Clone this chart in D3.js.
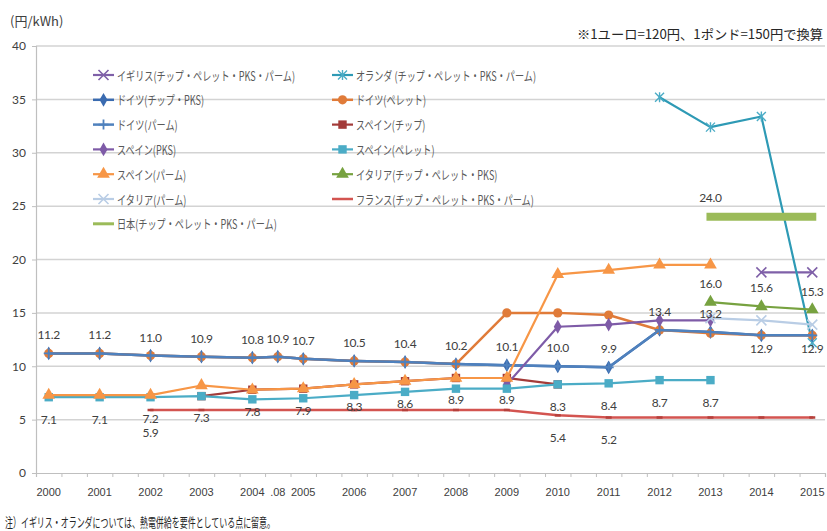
<!DOCTYPE html>
<html><head><meta charset="utf-8">
<script src="https://cdn.jsdelivr.net/npm/d3@7"></script>
<style>body{margin:0;background:#fff}svg{display:block}</style>
</head><body><svg id="c" width="827" height="531"></svg>
<script>
// ---------- data ----------
const years = [2000,2001,2002,2003,2004,2004.5,2005,2006,2007,2008,2009,2010,2011,2012,2013,2014,2015];
const yearLabels = ["2000","2001","2002","2003","2004",".08","2005","2006","2007","2008","2009","2010","2011","2012","2013","2014","2015"];
const yTicks = [0,5,10,15,20,25,30,35,40];
const n = null;
const ukValues      = [n,n,n,n,n,n,n,n,n,n,n,n,n,n,n,18.8,18.8];
const nlValues      = [n,n,n,n,n,n,n,n,n,n,n,n,n,35.2,32.4,33.4,12.2];
const deChipValues  = [11.2,11.2,11.0,10.9,10.8,10.9,10.7,10.5,10.4,10.2,10.1,10.0,9.9,13.4,13.2,12.9,12.9];
const dePelletValues= [11.2,11.2,11.0,10.9,10.8,10.9,10.7,10.5,10.4,10.2,15.0,15.0,14.8,13.4,13.1,12.9,12.9];
const dePalmValues  = [11.2,11.2,11.0,10.9,10.8,10.9,10.7,10.5,10.4,10.2,10.1,10.0,9.9,13.4,13.2,12.9,12.9];
const esChipValues  = [n,n,n,7.2,7.8,n,7.9,8.3,8.6,8.9,8.9,8.3,n,n,n,n,n];
const esPksValues   = [n,n,n,n,n,n,n,n,n,n,8.3,13.7,13.9,14.3,14.3,n,n];
const esPelletValues= [7.1,7.1,7.1,7.2,6.9,n,7.0,7.3,7.6,7.9,7.9,8.3,8.4,8.7,8.7,n,n];
const esPalmValues  = [7.3,7.3,7.3,8.2,7.8,n,7.9,8.3,8.6,8.9,8.9,18.6,19.0,19.5,19.5,n,n];
const itChipValues  = [n,n,n,n,n,n,n,n,n,n,n,n,n,n,16.0,15.6,15.3];
const itPalmValues  = [n,n,n,n,n,n,n,n,n,n,n,n,n,n,14.5,14.3,13.9];
const frValues      = [n,n,5.9,5.9,5.9,n,5.9,5.9,5.9,5.9,5.9,5.4,5.2,5.2,5.2,5.2,5.2];
const jpValues      = [n,n,n,n,n,n,n,n,n,n,n,n,n,n,24.0,24.0,24.0];

// data labels (values shown as text)
const deLabels = [11.2,11.2,11.0,10.9,10.8,10.9,10.7,10.5,10.4,10.2,10.1,10.0,9.9,13.4,13.2,12.9,12.9];
const esLabels = [7.1,7.1,7.2,7.3,7.8,n,7.9,8.3,8.6,8.9,8.9,8.3,8.4,8.7,8.7,n,n];
const frLabels = [n,n,5.9,n,n,n,n,n,n,n,n,5.4,5.2,n,n,n,n];
const itLabels = [n,n,n,n,n,n,n,n,n,n,n,n,n,n,16.0,15.6,15.3];
const jpLabels = [n,n,n,n,n,n,n,n,n,n,n,n,n,n,24.0,n,n];

const seriesNames = [
  "イギリス(チップ・ペレット・PKS・パーム)","オランダ (チップ・ペレット・PKS・パーム)",
  "ドイツ(チップ・PKS)","ドイツ(ペレット)",
  "ドイツ(パーム)","スペイン(チップ)",
  "スペイン(PKS)","スペイン(ペレット)",
  "スペイン(パーム)","イタリア(チップ・ペレット・PKS)",
  "イタリア(パーム)","フランス(チップ・ペレット・PKS・パーム)",
  "日本(チップ・ペレット・PKS・パーム)"
];
const seriesValues = [ukValues,nlValues,deChipValues,dePelletValues,dePalmValues,esChipValues,esPksValues,esPelletValues,esPalmValues,itChipValues,itPalmValues,frValues,jpValues];

// ---------- styles ----------
const styles = [
  {color:"#7F60A8", marker:"x",       w:2.2},
  {color:"#2E9AB5", marker:"star",    w:2.2, mcolor:"#4BACC6"},
  {color:"#3A6BB0", marker:"diamond", w:2.5},
  {color:"#E07B39", marker:"circle",  w:2.5},
  {color:"#4F81BD", marker:"plus",    w:2.5},
  {color:"#A33B39", marker:"square",  w:2.2},
  {color:"#7E5BA7", marker:"diamond", w:2.2},
  {color:"#4BACC6", marker:"square",  w:2.2},
  {color:"#F79646", marker:"triangle",w:2.2},
  {color:"#77A240", marker:"triangle",w:2.2},
  {color:"#B9CDE5", marker:"x",       w:2.2},
  {color:"#D35450", marker:"dash",    w:2.5},
  {color:"#9BBB59", marker:"none",    w:8}
];

const svg = d3.select("#c");
const x = d3.scaleLinear().domain([1999.75, 2015.25]).range([36, 825]);
const y = d3.scaleLinear().domain([0, 40]).range([473, 46]);
const textColor = "#404040";

// gridlines
svg.append("g").selectAll("line").data(yTicks.filter(d=>d>0)).join("line")
  .attr("x1", x(1999.75)).attr("x2", x(2015.25))
  .attr("y1", d=>y(d)).attr("y2", d=>y(d))
  .attr("stroke", "#d3d3d3").attr("stroke-width", 1.5);

// y axis
const yAxis = svg.append("g").attr("transform", `translate(${x(1999.75)},0)`)
  .call(d3.axisLeft(y).tickValues(yTicks).tickSize(4).tickPadding(6).tickFormat(d3.format("d")));
yAxis.select(".domain").attr("stroke", "#bfbfbf").attr("stroke-width", 1.2);
yAxis.selectAll(".tick line").attr("stroke", "#bfbfbf");
yAxis.selectAll("text").attr("fill", textColor).style("font-family", "Lato, 'Liberation Sans', sans-serif").style("font-size", "12px");

// x axis
const xAxis = svg.append("g").attr("transform", `translate(0,${y(0)})`)
  .call(d3.axisBottom(x).tickValues(d3.range(1999.75, 2015.3, 0.5)).tickSize(4).tickFormat(""));
xAxis.select(".domain").attr("stroke", "#bfbfbf").attr("stroke-width", 1.2);
xAxis.selectAll(".tick line").attr("stroke", "#bfbfbf");
svg.append("g").selectAll("text").data(years).join("text")
  .attr("x", d=>x(d)).attr("y", 492).attr("text-anchor", "middle").attr("dominant-baseline", "central")
  .attr("fill", textColor).style("font-family", "'Liberation Sans Narrow', 'Arial Narrow', sans-serif").style("font-size", "11px")
  .text((d,i)=>yearLabels[i]);

// marker drawing
function drawMarker(g, type, color, cx, cy) {
  const t = `translate(${cx},${cy})`;
  if (type === "circle") g.append("circle").attr("cx", cx).attr("cy", cy).attr("r", 4.6).attr("fill", color);
  else if (type === "diamond") g.append("path").attr("d", d3.symbol(d3.symbolDiamond, 55)()).attr("transform", t).attr("fill", color);
  else if (type === "square") g.append("rect").attr("x", cx-4.2).attr("y", cy-4.2).attr("width", 8.4).attr("height", 8.4).attr("fill", color);
  else if (type === "triangle") g.append("path").attr("d", d3.symbol(d3.symbolTriangle, 70)()).attr("transform", t).attr("fill", color);
  else if (type === "x") g.append("path").attr("d", "M-5,-5L5,5M-5,5L5,-5").attr("transform", t).attr("stroke", color).attr("stroke-width", 1.6).attr("fill", "none");
  else if (type === "plus") g.append("path").attr("d", "M-5,0H5M0,-5V5").attr("transform", t).attr("stroke", color).attr("stroke-width", 1.8).attr("fill", "none");
  else if (type === "star") g.append("path").attr("d", "M-4.5,-4.5L4.5,4.5M-4.5,4.5L4.5,-4.5M0,-5V5").attr("transform", t).attr("stroke", color).attr("stroke-width", 1.4).attr("fill", "none");
  else if (type === "dash") g.append("path").attr("d", "M-3,0H3").attr("transform", t).attr("stroke", "#B5403C").attr("stroke-width", 2.5);
}

// series
const line = d3.line().x(d=>x(d.year)).y(d=>y(d.v));
seriesValues.forEach((vals, si) => {
  const st = styles[si];
  const pts = years.map((yr,i)=>({year:yr, v:vals[i]})).filter(d=>d.v !== null);
  const g = svg.append("g");
  g.append("path").datum(pts).attr("d", line).attr("fill", "none")
    .attr("stroke", st.color).attr("stroke-width", st.w)
    .attr("stroke-linecap", st.marker === "none" ? "square" : "round").attr("stroke-linejoin", "round");
  if (st.marker !== "none") pts.forEach(p => drawMarker(g, st.marker, st.mcolor || st.color, x(p.year), y(p.v)));
});

// data labels
const labelFont = "Lato, 'Liberation Sans', sans-serif";
function addLabels(arr, offsetFn) {
  const d = years.map((yr,i)=>({year:yr, v:arr[i], i})).filter(d=>d.v !== null);
  svg.append("g").selectAll("text").data(d).join("text")
    .attr("x", d=>x(d.year)).attr("y", d=>y(d.v) + offsetFn(d))
    .attr("text-anchor", "middle").attr("dominant-baseline", "central")
    .attr("fill", textColor).style("font-family", labelFont).style("font-size", "12px")
    .style("letter-spacing", "-0.3px")
    .text(d=>d.v.toFixed(1));
}
addLabels(deLabels, d => d.i >= 15 ? 13 : -18.5);
addLabels(esLabels, d => 22);
addLabels(frLabels, d => 22);
addLabels(itLabels, d => -18.5);
addLabels(jpLabels, d => -19);

// legend
const legend = svg.append("g");
const colX = [93, 332];
const legendTexts = [];
seriesNames.forEach((name, i) => {
  const cx = colX[i % 2], cy = 75 + Math.floor(i / 2) * 24.8;
  const st = styles[i];
  legend.append("line").attr("x1", cx).attr("x2", cx + 21).attr("y1", cy).attr("y2", cy)
    .attr("stroke", st.color).attr("stroke-width", Math.min(st.w, 3));
  if (st.marker !== "none" && st.marker !== "dash") drawMarker(legend, st.marker, st.mcolor || st.color, cx + 10.5, cy);
  const t = legend.append("text").attr("x", cx + 24).attr("y", cy).attr("dominant-baseline", "central")
    .attr("fill", "#595959").style("font-family", "'Noto Sans CJK JP', sans-serif").style("font-size", "12.5px").text(name);
  legendTexts.push(t);
});
const refW = legendTexts[0].node().getComputedTextLength();
const ratio = 178 / refW;
legendTexts.forEach(t => {
  const w = t.node().getComputedTextLength();
  t.attr("textLength", w * ratio).attr("lengthAdjust", "spacingAndGlyphs");
});

// unit, notes
svg.append("text").attr("x", 10).attr("y", 20).attr("dominant-baseline", "central")
  .attr("fill", textColor).style("font-family", "'Noto Sans CJK JP', sans-serif").style("font-size", "13px").text("(円/kWh)");
const note1 = svg.append("text").attr("x", 577).attr("y", 33).attr("dominant-baseline", "central")
  .attr("fill", "#262626").style("font-family", "'Noto Sans CJK JP', sans-serif").style("font-size", "13px")
  .text("※1ユーロ=120円、1ポンド=150円で換算");
note1.attr("textLength", 246).attr("lengthAdjust", "spacingAndGlyphs");
const note2 = svg.append("text").attr("x", 5).attr("y", 521).attr("dominant-baseline", "central")
  .attr("fill", "#262626").style("font-family", "'Noto Sans CJK JP', sans-serif").style("font-size", "13px")
  .text("注）イギリス・オランダについては、熱電併給を要件としている点に留意。");
note2.attr("textLength", 270).attr("lengthAdjust", "spacingAndGlyphs");
</script></body></html>
